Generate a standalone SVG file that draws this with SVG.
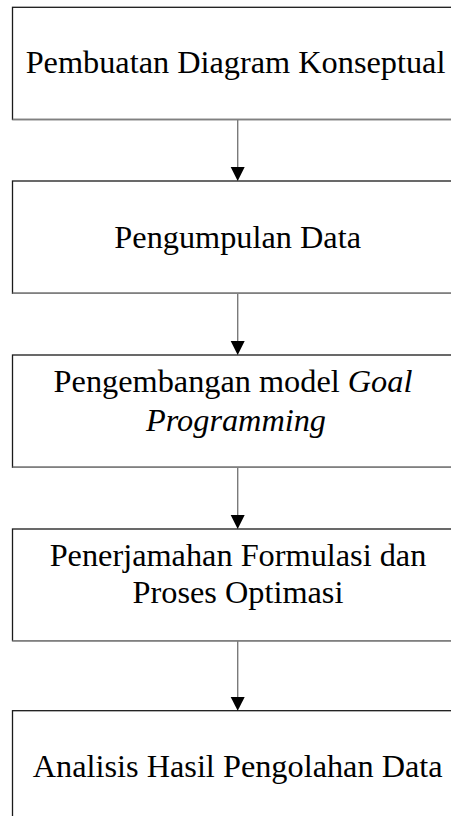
<svg xmlns="http://www.w3.org/2000/svg" width="451" height="816" viewBox="0 0 451 816">
<defs>
<style>
.box{fill:#fff;stroke:#1a1a1a;stroke-width:1.3}
.bot{stroke:#808080;stroke-width:1.5}
.lbl{font-family:"Liberation Serif","Times New Roman",serif;font-size:32.3px;fill:#000;text-anchor:middle}
.it{font-style:italic}
.conn{stroke:#7a7a7a;stroke-width:1.4;fill:none}
.head{fill:#000}
</style>
</defs>
<rect width="451" height="816" fill="#fff"/>
<g id="n1">
<rect class="box" x="12.5" y="7.3" width="450" height="112.2"/>
<line class="bot" x1="12.5" y1="119.5" x2="462.5" y2="119.5"/>
<text class="lbl" x="235.5" y="73">Pembuatan Diagram Konseptual</text>
</g>
<g id="n2">
<rect class="box" x="12.5" y="181" width="450" height="112.3"/>
<line class="bot" x1="12.5" y1="293.3" x2="462.5" y2="293.3"/>
<text class="lbl" x="237.7" y="247.5">Pengumpulan Data</text>
</g>
<g id="n3">
<rect class="box" x="12.5" y="355" width="450" height="112.3"/>
<line class="bot" x1="12.5" y1="467.3" x2="462.5" y2="467.3"/>
<text class="lbl" x="233" y="392.3">Pengembangan model <tspan class="it">Goal</tspan></text>
<text class="lbl it" x="236" y="431">Programming</text>
</g>
<g id="n4">
<rect class="box" x="12.5" y="529" width="450" height="111.7"/>
<line class="bot" x1="12.5" y1="640.7" x2="462.5" y2="640.7"/>
<text class="lbl" x="238" y="565.7">Penerjamahan Formulasi dan</text>
<text class="lbl" x="238" y="603.3">Proses Optimasi</text>
</g>
<g id="n5">
<rect class="box" x="12.5" y="710.7" width="450" height="112"/>
<text class="lbl" x="237.7" y="776.7">Analisis Hasil Pengolahan Data</text>
</g>
<g id="connectors">
<line class="conn" x1="237.7" y1="120" x2="237.7" y2="168"/>
<polygon class="head" points="230.7,167 244.7,167 237.7,181"/>
<line class="conn" x1="237.7" y1="294" x2="237.7" y2="342"/>
<polygon class="head" points="230.7,341 244.7,341 237.7,355"/>
<line class="conn" x1="237.7" y1="468" x2="237.7" y2="516"/>
<polygon class="head" points="230.7,515 244.7,515 237.7,529"/>
<line class="conn" x1="237.7" y1="641" x2="237.7" y2="698"/>
<polygon class="head" points="230.7,697 244.7,697 237.7,710.7"/>
</g>
</svg>
